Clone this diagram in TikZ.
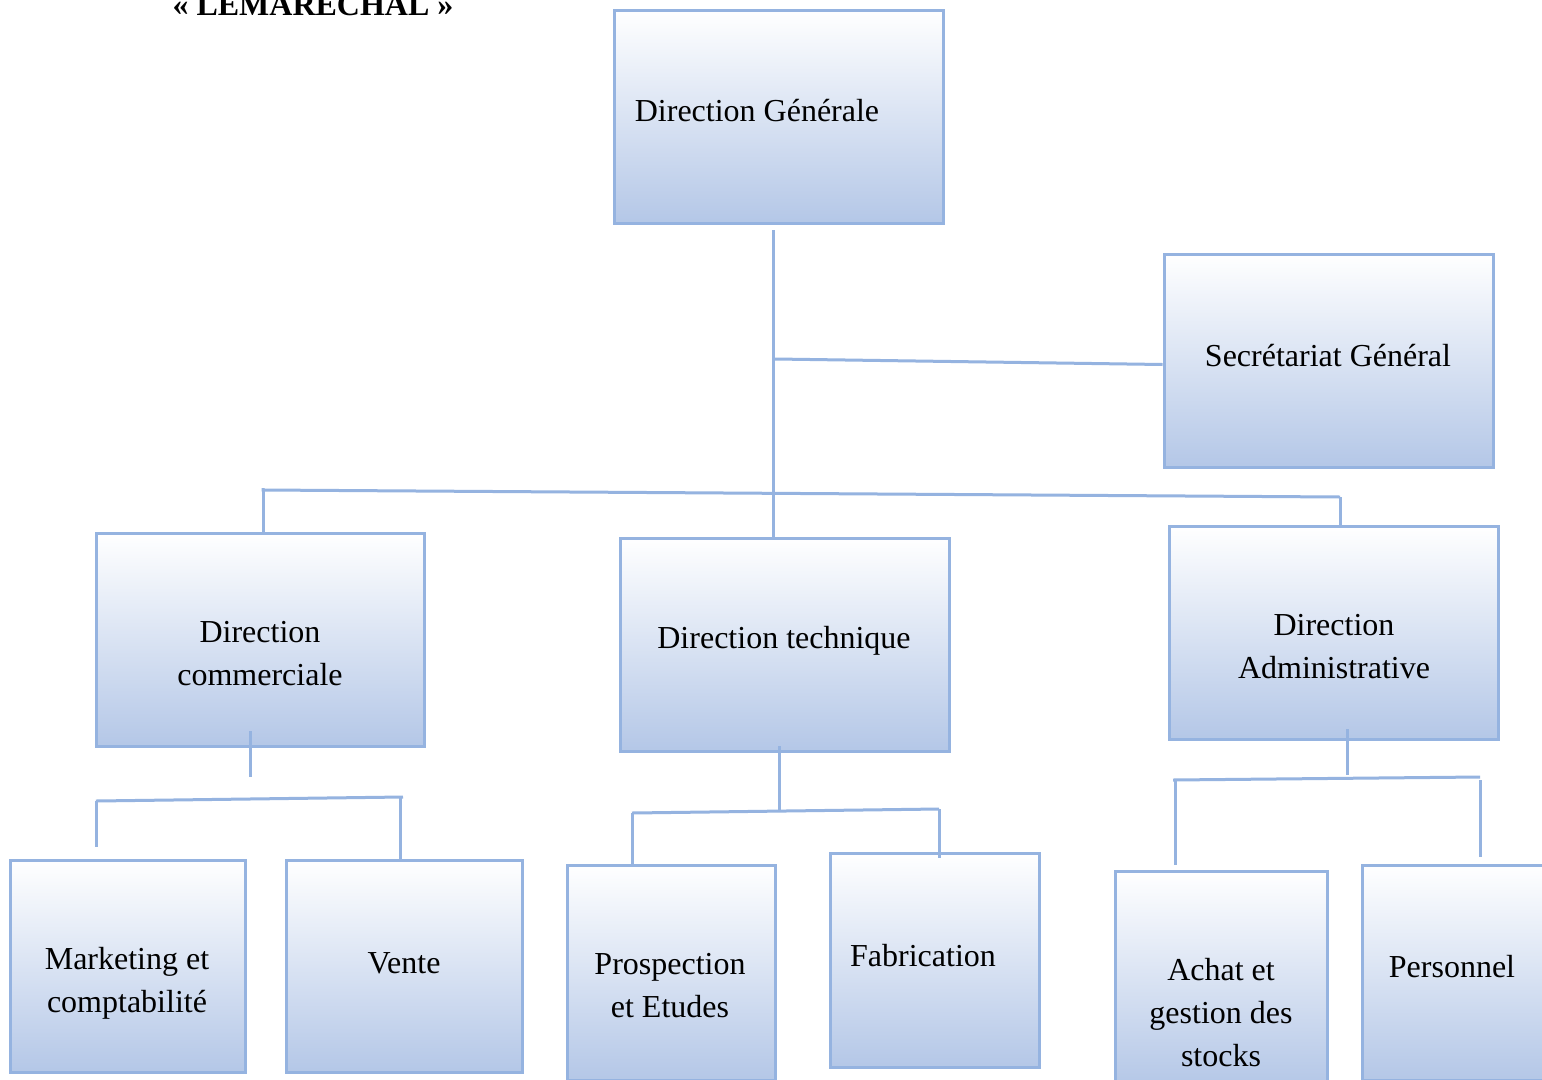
\documentclass[tikz,border=0pt]{standalone}
\usepackage{fontspec}
\setmainfont{Liberation Serif}
\definecolor{edgeblue}{RGB}{149,179,224}
\definecolor{fillblue}{RGB}{180,199,231}
\tikzset{
  unitbox/.style={draw=edgeblue, line width=3pt, top color=white,
    middle color=fillblue!38!white, bottom color=fillblue, inner sep=0pt},
  boxtext/.style={align=center, inner sep=0pt, font=\fontsize{32}{43}\selectfont},
  link/.style={draw=edgeblue, line width=3pt}
}
\begin{document}
\begin{tikzpicture}[x=1pt, y=-1pt]
\clip (0,0) rectangle (1542,1079);
\fill[white] (0,0) rectangle (1542,1079);

% title
\node[anchor=base, inner sep=0pt, font=\fontsize{32}{38}\selectfont\bfseries] (title) at (313,15) {« LEMARECHAL »};

% boxes
\node[unitbox, minimum width=329pt, minimum height=213pt] (dg) at (778.5,116.5) {};
\node[unitbox, minimum width=329pt, minimum height=213pt] (sg) at (1328.5,360.5) {};
\node[unitbox, minimum width=328pt, minimum height=213pt] (dc) at (260,639.5) {};
\node[unitbox, minimum width=329pt, minimum height=213pt] (dt) at (784.5,644.5) {};
\node[unitbox, minimum width=329pt, minimum height=213pt] (da) at (1333.5,632.5) {};
\node[unitbox, minimum width=235pt, minimum height=212pt] (mk) at (127.5,966) {};
\node[unitbox, minimum width=236pt, minimum height=212pt] (ve) at (404,966) {};
\node[unitbox, minimum width=208pt, minimum height=215pt] (pe) at (671,972.5) {};
\node[unitbox, minimum width=209pt, minimum height=214pt] (fa) at (934.5,960) {};
\node[unitbox, minimum width=212pt, minimum height=215pt] (ag) at (1221,978.5) {};
\node[unitbox, minimum width=212pt, minimum height=215pt] (pr) at (1468,972.5) {};

% texts
\node[boxtext] (tdg) at (757,111) {Direction Générale};
\node[boxtext] (tsg) at (1328,356) {Secrétariat Général};
\node[boxtext] (tdc) at (260,654) {Direction\\commerciale};
\node[boxtext] (tdt) at (784,641) {Direction technique};
\node[boxtext] (tda) at (1334,647) {Direction\\Administrative};
\node[boxtext] (tmk) at (127,983) {Marketing et\\comptabilité};
\node[boxtext] (tve) at (404,963) {Vente};
\node[boxtext] (tpe) at (670,986) {Prospection\\et Etudes};
\node[boxtext] (tfa) at (923,956) {Fabrication};
\node[boxtext] (tag) at (1221,1013) {Achat et\\gestion des\\stocks};
\node[boxtext] (tpr) at (1452,967) {Personnel};

% junction points
\coordinate (top) at (773,230);
\coordinate (sgj) at (775,359);
\coordinate (barl) at (263,490);
\coordinate (barr) at (1340,497);
\coordinate (dcd) at (250,731);
\coordinate (dcdend) at (250,777);
\coordinate (dcl) at (96,801);
\coordinate (dcr) at (403,797);
\coordinate (dclend) at (96,847);
\coordinate (dcrs) at (400,797);
\coordinate (dtd) at (779,746);
\coordinate (dtdend) at (779,811);
\coordinate (dtl) at (632,813);
\coordinate (dtr) at (939,809);
\coordinate (dtrend) at (939,858);
\coordinate (dad) at (1347,729);
\coordinate (dadend) at (1347,775);
\coordinate (dal) at (1173,780);
\coordinate (dar) at (1480,777);
\coordinate (dals) at (1175,780);
\coordinate (dalend) at (1175,865);
\coordinate (dars) at (1480,780);
\coordinate (darend) at (1480,857);

% trunk and first level
\draw[link] (top) -- (top |- dt.north);
\draw[link] (sgj) -- ([yshift=-4pt]sg.west);
\draw[link] ([yshift=2pt]barl) -- (barl) -- (barr);
\draw[link] (barl) -- (barl |- dc.north);
\draw[link] (barr) -- ([yshift=-2pt]barr |- da.north);

% commercial branch
\draw[link] (dcd) -- (dcdend);
\draw[link] (dcl) -- (dcr);
\draw[link] (dcl) -- (dclend);
\draw[link] (dcrs) -- (dcrs |- ve.north);

% technical branch
\draw[link] (dtd) -- (dtdend);
\draw[link] (dtl) -- (dtr);
\draw[link] (dtl) -- (dtl |- pe.north);
\draw[link] (dtr) -- (dtrend);

% administrative branch
\draw[link] (dad) -- (dadend);
\draw[link] (dal) -- (dar);
\draw[link] (dals) -- (dalend);
\draw[link] (dars) -- (darend);
\end{tikzpicture}
\end{document}
